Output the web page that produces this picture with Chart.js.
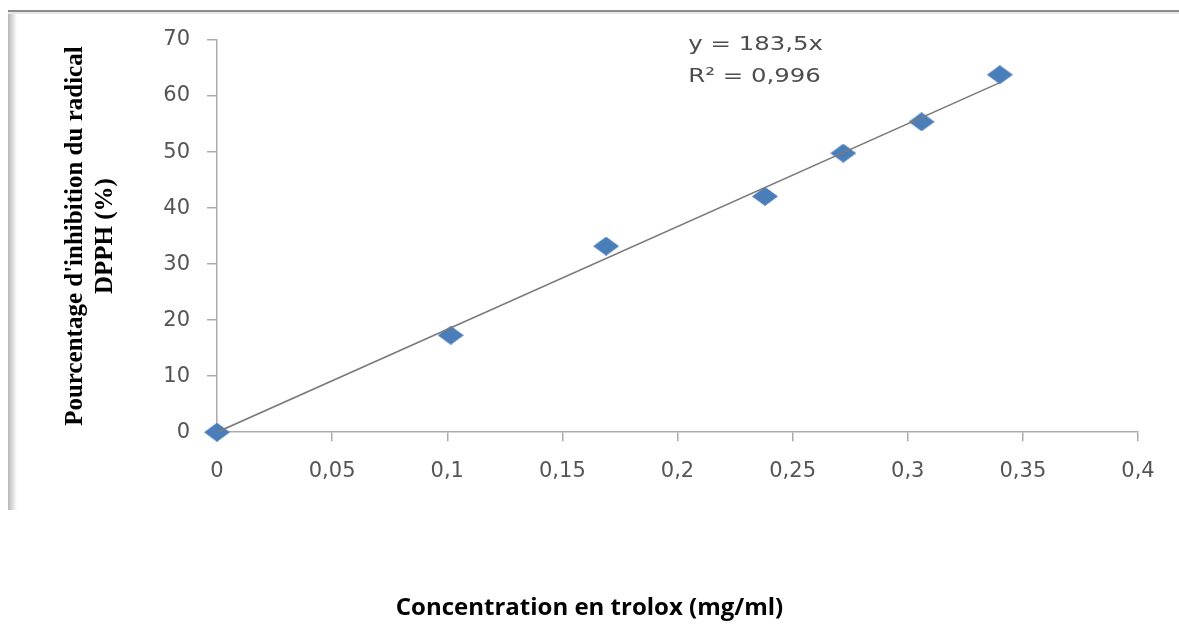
<!DOCTYPE html>
<html>
<head>
<meta charset="utf-8">
<script src="https://cdn.jsdelivr.net/npm/chart.js@4"></script>
<style>
  html, body { margin: 0; padding: 0; background: #fff; }
  #wrap { width: 1179px; height: 641px; }
</style>
</head>
<body>
<div id="wrap"><canvas id="graficaTrolox"></canvas></div>
<script>
// concentration en trolox (mg/ml) et % d'inhibition DPPH
const concentrations = [0, 0.1015, 0.169, 0.238, 0.272, 0.306, 0.34];
const inhibitions = [0, 17.3, 33.2, 42.1, 49.8, 55.4, 63.8];

// droite de tendance affichée : y = 183,5x, R² = 0,996
const pente = 183.5;
const equationLignes = ['y = 183,5x', 'R\u00B2 = 0,996'];

const xTicks = ['0', '0,05', '0,1', '0,15', '0,2', '0,25', '0,3', '0,35', '0,4'];
const yTitre = ["Pourcentage d'inhibition du radical", 'DPPH (%)'];
const xTitre = 'Concentration en trolox (mg/ml)';

// losange un peu plus large que haut
function creerLosange(w, h, couleur) {
    const c = document.createElement('canvas');
    c.width = w; c.height = h;
    const g = c.getContext('2d');
    g.fillStyle = couleur;
    g.beginPath();
    g.moveTo(w / 2, 0);
    g.lineTo(w, h / 2);
    g.lineTo(w / 2, h);
    g.lineTo(0, h / 2);
    g.closePath();
    g.fill();
    return c;
}

const cadre = {
    id: 'cadre',
    beforeDraw(chart) {
        const ctx = chart.ctx;
        ctx.save();
        ctx.fillStyle = '#fff';
        ctx.fillRect(0, 0, chart.width, chart.height);
        // bord gauche en dégradé
        const grad = ctx.createLinearGradient(8, 0, 17, 0);
        grad.addColorStop(0, '#b8b8b8');
        grad.addColorStop(1, '#ffffff');
        ctx.fillStyle = grad;
        ctx.fillRect(8, 10, 9, 500);
        // bord du haut
        ctx.fillStyle = '#8c8c8c';
        ctx.fillRect(8, 10, chart.width - 8, 2);
        ctx.fillStyle = '#e6e6e6';
        ctx.fillRect(8, 12, chart.width - 8, 2);
        ctx.restore();
    }
};

// équation de la droite, texte un peu étiré en largeur
const equation = {
    id: 'equation',
    afterDraw(chart) {
        const ctx = chart.ctx;
        const x = chart.scales.x.getPixelForValue(0.2047);
        const y1 = chart.scales.y.getPixelForValue(69.1);
        const y2 = chart.scales.y.getPixelForValue(63.4);
        ctx.save();
        ctx.fillStyle = '#4d4d4d';
        ctx.font = '20px "DejaVu Sans"';
        ctx.textAlign = 'left';
        ctx.textBaseline = 'middle';
        ctx.translate(x, 0);
        ctx.scale(1.22, 1);
        ctx.fillText(equationLignes[0], 0, y1);
        ctx.fillText(equationLignes[1], 0, y2);
        ctx.restore();
    }
};

const points = concentrations.map((c, i) => ({ x: c, y: inhibitions[i] }));
const xMax = Math.max(...concentrations);
const tendance = [{ x: 0, y: 0 }, { x: xMax, y: pente * xMax }];

const couleurTicks = '#555555';
const couleurAxe = '#ababab';

new Chart(document.getElementById('graficaTrolox'), {
    type: 'scatter',
    data: {
        datasets: [
            {
                type: 'line',
                data: tendance,
                borderColor: '#7a7a7a',
                borderWidth: 1.6,
                pointRadius: 0,
                fill: false
            },
            {
                data: points,
                pointStyle: creerLosange(26, 19, '#4a7ebb'),
                pointRadius: 10,
                backgroundColor: '#4a7ebb',
                borderWidth: 0,
                clip: false
            }
        ]
    },
    options: {
        responsive: true,
        maintainAspectRatio: false,
        animation: false,
        layout: { padding: { top: 40, right: 41, left: 41, bottom: 0 } },
        plugins: {
            legend: { display: false },
            tooltip: { enabled: false },
            title: {
                display: true,
                position: 'bottom',
                text: xTitre,
                color: '#000',
                font: { family: '"Open Sans"', size: 24, weight: 'bold', lineHeight: 1.2 },
                padding: { top: 92, bottom: 18 }
            }
        },
        scales: {
            x: {
                type: 'linear',
                min: 0,
                max: 0.4,
                afterFit(scale) { scale.height = 70; },
                ticks: {
                    stepSize: 0.05,
                    color: couleurTicks,
                    font: { family: '"DejaVu Sans"', size: 21 },
                    padding: 18,
                    maxRotation: 0,
                    callback: (v, i) => xTicks[i]
                },
                grid: { drawOnChartArea: false, drawTicks: true, tickLength: 9, color: couleurAxe, lineWidth: 1.5 },
                border: { display: true, color: couleurAxe, width: 1.5 }
            },
            y: {
                type: 'linear',
                min: 0,
                max: 70,
                afterFit(scale) { scale.width = 176; },
                ticks: {
                    stepSize: 10,
                    color: couleurTicks,
                    font: { family: '"DejaVu Sans"', size: 21 },
                    padding: 17
                },
                grid: { drawOnChartArea: false, drawTicks: true, tickLength: 10, color: couleurAxe, lineWidth: 1.5 },
                border: { display: true, color: couleurAxe, width: 1.5 },
                title: {
                    display: true,
                    text: yTitre,
                    color: '#000',
                    font: { family: '"Liberation Serif"', size: 25, weight: 'bold', lineHeight: 1.2 },
                    padding: { top: 20, bottom: 0 }
                }
            }
        }
    },
    plugins: [cadre, equation]
});
</script>
</body>
</html>
